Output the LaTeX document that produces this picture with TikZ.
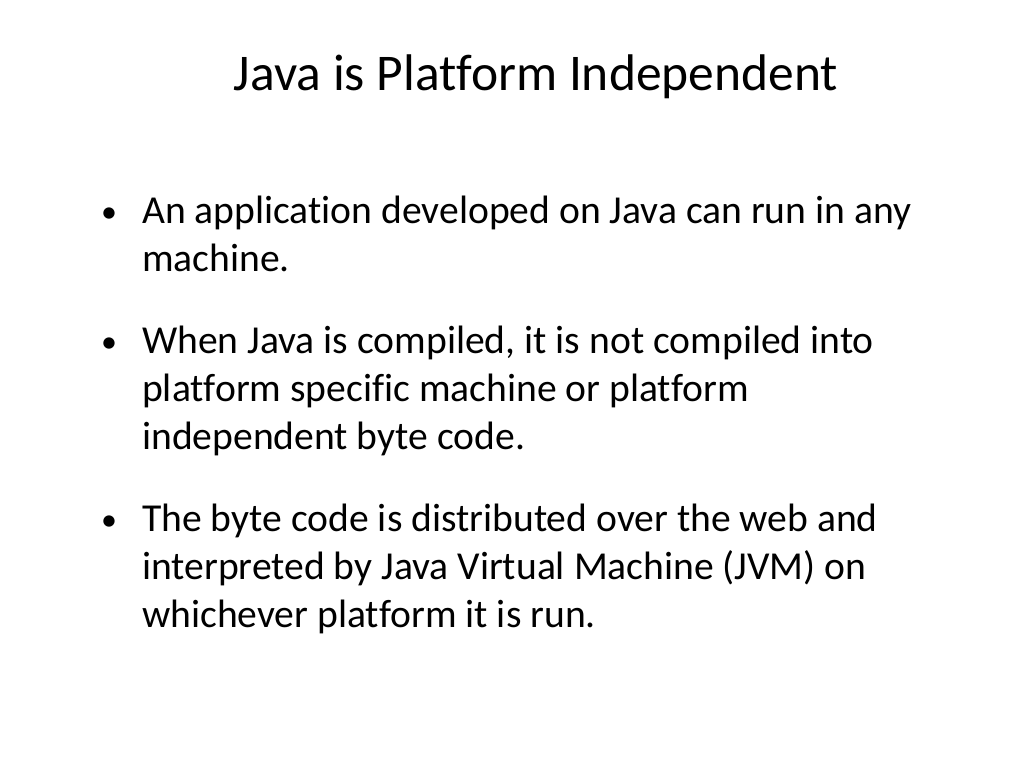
\documentclass[tikz,border=0pt]{standalone}
\usepackage{fontspec}
\setmainfont{Carlito}[Ligatures=NoCommon]
\begin{document}
\begin{tikzpicture}[x=1pt,y=-1pt,
  ln/.style={anchor=base west,inner sep=0pt,font=\fontsize{39.6}{46}\selectfont},
  bl/.style={anchor=base west,inner sep=0pt,font=\fontsize{32}{38}\selectfont}]
\useasboundingbox (0,0) rectangle (1024,768);
\fill[white] (0,0) rectangle (1024,768);
\node[anchor=base,inner sep=0pt,font=\fontsize{51.5}{58}\selectfont] (title) at (536,90) {Java is Platform Independent};
\node[bl] (b1) at (101,222) {•};
\node[ln] (l1) at (142,223) {An application developed on Java can run in any};
\node[ln] (l2) at (142,271) {machine.};
\node[bl] (b2) at (101,352) {•};
\node[ln] (l3) at (142,353) {When Java is compiled, it is not compiled into};
\node[ln] (l4) at (142,401) {platform specific machine or platform};
\node[ln] (l5) at (142,449) {independent byte code.};
\node[bl] (b3) at (101,530) {•};
\node[ln] (l6) at (142,531) {The byte code is distributed over the web and};
\node[ln] (l7) at (142,579) {interpreted by Java Virtual Machine (JVM) on};
\node[ln] (l8) at (142,627) {whichever platform it is run.};
\end{tikzpicture}
\end{document}
